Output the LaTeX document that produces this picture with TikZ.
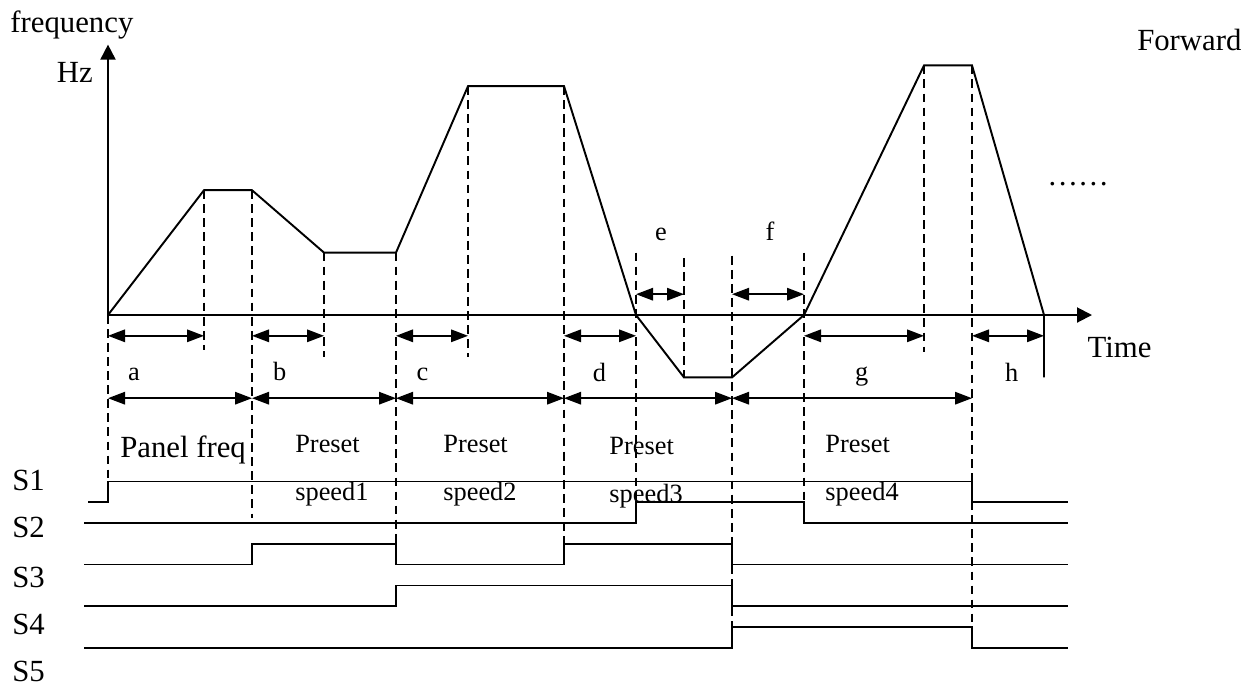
\documentclass[tikz,border=0pt]{standalone}
\usepackage{fontspec}
\setmainfont{Liberation Serif}
\usetikzlibrary{arrows.meta}

\tikzset{
  profile/.style={line width=1.1pt, line join=miter},
  trace/.style={line width=0.9pt},
  guide/.style={line width=0.75pt, dash pattern=on 5pt off 3pt},
  span/.style={line width=0.9pt, {Triangle[length=0.34cm,width=0.25cm]}-{Triangle[length=0.34cm,width=0.25cm]}},
  axisarrow/.style={line width=1.1pt, -{Triangle[length=0.3cm,width=0.3cm]}},
  biglbl/.style={font=\fontsize{17.5}{21}\selectfont, inner sep=0pt},
  smalllbl/.style={font=\fontsize{15}{18}\selectfont, inner sep=0pt},
}

\begin{document}
\begin{tikzpicture}[x=0.48cm, y=0.416cm]
    \useasboundingbox (-4.5,-17.837) rectangle (47.833,15.144);
    % axes
    \draw[axisarrow] (0,0) -- (0,13);
    \draw[axisarrow] (0,0) -- (41,0);
    \node[biglbl, anchor=base west] (freq) at (-4.08,13.56) {frequency};
    \node[biglbl, anchor=base east] (hz) at (-0.62,11.2) {Hz};
    \node[biglbl, anchor=base west] (time) at (40.8,-2.02) {Time};
    \node[biglbl, anchor=base west] (fwd) at (42.87,12.74) {Forward};
    \node[biglbl, anchor=base] (more) at (40.42,6.25) {……};

    % frequency profile
    \draw[profile] (0,0) -- (4,6) -- (6,6) -- (9,3) -- (12,3) -- (15,11) -- (19,11)
      -- (22,0) -- (24,-3) -- (26,-3) -- (29,0) -- (34,12) -- (36,12) -- (39,0) -- (39,-3);

    % dashed guides
    \draw[guide] (0,0) -- (0,-8);
    \draw[guide] (4,6) -- (4,-1.7);
    \draw[guide] (6,6) -- (6,-9.75);
    \draw[guide] (9,3) -- (9,-2);
    \draw[guide] (12,3) -- (12,-11);
    \draw[guide] (15,11) -- (15,-2);
    \draw[guide] (19,11) -- (19,-11);
    \draw[guide] (22,3) -- (22,-9);
    \draw[guide] (24,2.75) -- (24,-3);
    \draw[guide] (26,2.85) -- (26,-15);
    \draw[guide] (29,3) -- (29,-9);
    \draw[guide] (34,12) -- (34,-1.8);
    \draw[guide] (36,12) -- (36,-15);

    % short spans
    \draw[span] (0,-1) -- (4,-1);
    \draw[span] (6,-1) -- (9,-1);
    \draw[span] (12,-1) -- (15,-1);
    \draw[span] (19,-1) -- (22,-1);
    \draw[span] (22,1) -- (24,1);
    \draw[span] (26,1) -- (29,1);
    \draw[span] (29,-1) -- (34,-1);
    \draw[span] (36,-1) -- (39,-1);
    % long spans
    \draw[span] (0,-4) -- (6,-4);
    \draw[span] (6,-4) -- (12,-4);
    \draw[span] (12,-4) -- (19,-4);
    \draw[span] (19,-4) -- (26,-4);
    \draw[span] (26,-4) -- (36,-4);

    % span letters
    \node[smalllbl, anchor=base] (la) at (1.08,-3.15) {a};
    \node[smalllbl, anchor=base] (lb) at (7.15,-3.15) {b};
    \node[smalllbl, anchor=base] (lc) at (13.1,-3.15) {c};
    \node[smalllbl, anchor=base] (ld) at (20.48,-3.2) {d};
    \node[smalllbl, anchor=base] (le) at (23.04,3.6) {e};
    \node[smalllbl, anchor=base] (lf) at (27.58,3.6) {f};
    \node[smalllbl, anchor=base] (lg) at (31.4,-3.15) {g};
    \node[smalllbl, anchor=base] (lh) at (37.65,-3.2) {h};

    % speed names
    \node[biglbl, anchor=base west] (panel) at (0.5,-6.83) {Panel freq};
    \node[smalllbl, anchor=base west] (preb) at (7.79,-6.6) {Preset};
    \node[smalllbl, anchor=base west] (spb) at (7.79,-8.9) {speed1};
    \node[smalllbl, anchor=base west] (prec) at (13.96,-6.6) {Preset};
    \node[smalllbl, anchor=base west] (spc) at (13.96,-8.9) {speed2};
    \node[smalllbl, anchor=base west] (pred) at (20.88,-6.7) {Preset};
    \node[smalllbl, anchor=base west] (spd) at (20.88,-9.0) {speed3};
    \node[smalllbl, anchor=base west] (preg) at (29.88,-6.6) {Preset};
    \node[smalllbl, anchor=base west] (spg) at (29.88,-8.9) {speed4};

    % terminal traces
    \draw[trace] (-0.83,-9) -- (0,-9) -- (0,-8) -- (36,-8) -- (36,-9) -- (40,-9);
    \draw[trace] (-1,-10) -- (22,-10) -- (22,-9) -- (29,-9) -- (29,-10) -- (40,-10);
    \draw[trace] (-1,-12) -- (6,-12) -- (6,-11) -- (12,-11) -- (12,-12) -- (19,-12)
      -- (19,-11) -- (26,-11) -- (26,-12) -- (40,-12);
    \draw[trace] (-1,-14) -- (12,-14) -- (12,-13) -- (26,-13) -- (26,-14) -- (40,-14);
    \draw[trace] (-1,-16) -- (26,-16) -- (26,-15) -- (36,-15) -- (36,-16) -- (40,-16);

    % terminal names
    \node[biglbl, anchor=base west] (s1) at (-4,-8.46) {S1};
    \node[biglbl, anchor=base west] (s2) at (-4,-10.72) {S2};
    \node[biglbl, anchor=base west] (s3) at (-4,-13.08) {S3};
    \node[biglbl, anchor=base west] (s4) at (-4,-15.38) {S4};
    \node[biglbl, anchor=base west] (s5) at (-4,-17.64) {S5};
\end{tikzpicture}
\end{document}
